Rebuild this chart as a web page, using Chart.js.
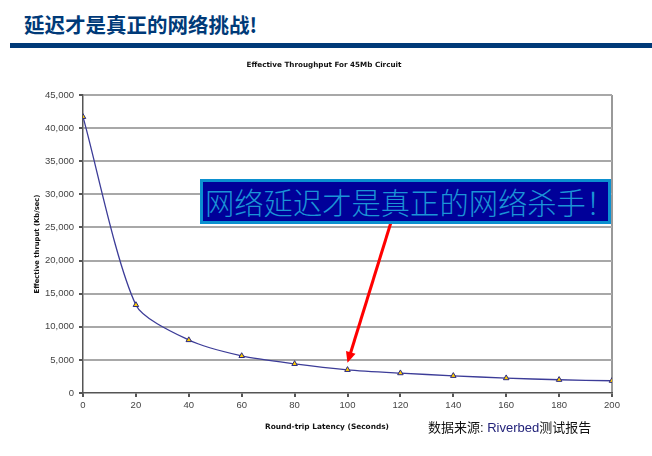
<!DOCTYPE html>
<html>
<head>
<meta charset="utf-8">
<script src="https://cdn.jsdelivr.net/npm/chart.js@4.4.0/dist/chart.umd.min.js"></script>
<style>
  body { margin: 0; width: 652px; height: 456px; background: #fff; position: relative; overflow: hidden; }
  #heading { position: absolute; left: 24px; top: 13px; font: bold 20.5px/22px "Noto Sans CJK SC", sans-serif; color: #003a78; white-space: nowrap; }
  #bar { position: absolute; left: 10px; top: 43px; width: 642px; height: 5px; background: #003a78; }
  #chart { position: absolute; left: 0; top: 0; }
  #chartTitle { position: absolute; left: 235px; top: 59px; width: 178px; text-align: center; font: bold 7.2px/12px "DejaVu Sans", sans-serif; color: #111; white-space: nowrap; }
  #xTitle { position: absolute; left: 254px; top: 421px; width: 146px; text-align: center; font: bold 7.4px/12px "DejaVu Sans", sans-serif; color: #111; white-space: nowrap; }
  #source { position: absolute; left: 428px; top: 419px; font: 13px/18px "Liberation Sans", "Noto Sans CJK SC", sans-serif; color: #111; white-space: nowrap; }
  #source .rb { color: #23237a; }
  #callout { position: absolute; left: 200px; top: 179px; width: 403px; height: 39px; background: #000099; border: 3px solid #0b90d0;
             font: 300 29.3px/39px "Noto Sans CJK SC", sans-serif; color: #1b94d6; white-space: nowrap; overflow: hidden; padding-left: 2px; box-sizing: content-box; }
</style>
</head>
<body>
<div id="heading">延迟才是真正的网络挑战!</div>
<div id="bar"></div>
<canvas id="chart" width="652" height="456"></canvas>
<div id="chartTitle">Effective Throughput For 45Mb Circuit</div>
<div id="xTitle">Round-trip Latency (Seconds)</div>
<div id="source">数据来源: <span class="rb">Riverbed</span>测试报告</div>
<div id="callout">网络延迟才是真正的网络杀手！</div>
<script>
// round-trip latency (s) and effective throughput (Kb/sec)
const latency = [0, 20, 40, 60, 80, 100, 120, 140, 160, 180, 200];
const thruput = [41700, 13300, 8000, 5600, 4400, 3500, 3000, 2600, 2250, 2000, 1850];

const xTicks = { min: 0, max: 200, step: 20 };
const yTicks = { min: 0, max: 45000, step: 5000 };

// arrow of the callout, in data units (from box bottom to the 100 s point)
const arrowFrom = [116.3, 25600];
const arrowTo = [100, 4550];

const arrowPlugin = {
    id: "arrow",
    afterDatasetsDraw(chart) {
        const { ctx, scales: { x, y } } = chart;
        const x0 = x.getPixelForValue(arrowFrom[0]), y0 = y.getPixelForValue(arrowFrom[1]);
        const x1 = x.getPixelForValue(arrowTo[0]), y1 = y.getPixelForValue(arrowTo[1]);
        const ang = Math.atan2(y1 - y0, x1 - x0);
        const headLen = 11, headW = 5;
        ctx.save();
        ctx.strokeStyle = "#ff0000";
        ctx.fillStyle = "#ff0000";
        ctx.lineWidth = 3;
        ctx.beginPath();
        ctx.moveTo(x0, y0);
        ctx.lineTo(x1 - Math.cos(ang) * (headLen - 2), y1 - Math.sin(ang) * (headLen - 2));
        ctx.stroke();
        ctx.beginPath();
        ctx.moveTo(x1, y1);
        ctx.lineTo(x1 - Math.cos(ang) * headLen - Math.sin(ang) * headW, y1 - Math.sin(ang) * headLen + Math.cos(ang) * headW);
        ctx.lineTo(x1 - Math.cos(ang) * headLen + Math.sin(ang) * headW, y1 - Math.sin(ang) * headLen - Math.cos(ang) * headW);
        ctx.closePath();
        ctx.fill();
        ctx.restore();
    }
};

const ctx = document.getElementById("chart").getContext("2d");
new Chart(ctx, {
    type: "line",
    data: {
        datasets: [{
            data: latency.map((v, i) => ({ x: v, y: thruput[i] })),
            borderColor: "#3c3c98",
            borderWidth: 1.3,
            tension: 0.25,
            pointStyle: "triangle",
            pointRadius: 3.2,
            pointBackgroundColor: "#ffcc00",
            pointBorderColor: "#2a2a80",
            pointBorderWidth: 1
        }]
    },
    options: {
        responsive: false,
        animation: false,
        layout: { padding: { left: 29, top: 95, right: 40, bottom: 43 } },
        plugins: { legend: { display: false }, tooltip: { enabled: false } },
        scales: {
            x: {
                type: "linear",
                min: xTicks.min,
                max: xTicks.max,
                afterFit: (s) => { s.height = 20; },
                ticks: { stepSize: xTicks.step, padding: 3, color: "#444", font: { family: "Liberation Sans", size: 9.5 } },
                grid: {
                    color: (c) => (c.tick && c.tick.value === xTicks.max ? "#999" : "rgba(0,0,0,0)"),
                    lineWidth: 2,
                    tickColor: "#555",
                    tickLength: 4
                },
                border: { color: "#555", width: 1.5 }
            },
            y: {
                min: yTicks.min,
                max: yTicks.max,
                afterFit: (s) => { s.width = 54; },
                ticks: {
                    stepSize: yTicks.step,
                    padding: 5,
                    color: "#444",
                    font: { family: "Liberation Sans", size: 9.5 },
                    callback: (v) => v.toLocaleString("en-US")
                },
                grid: {
                    color: (c) => (c.tick && c.tick.value === 0 ? "rgba(0,0,0,0)" : "#a8a8a8"),
                    lineWidth: 2,
                    tickColor: "#555",
                    tickLength: 4
                },
                border: { color: "#555", width: 1.5 },
                title: {
                    display: true,
                    text: "Effective thruput (Kb/sec)",
                    color: "#111",
                    font: { family: "DejaVu Sans", size: 6.8, weight: "bold" },
                    padding: { top: 4, bottom: 4 }
                }
            }
        }
    },
    plugins: [arrowPlugin]
});
</script>
</body>
</html>
